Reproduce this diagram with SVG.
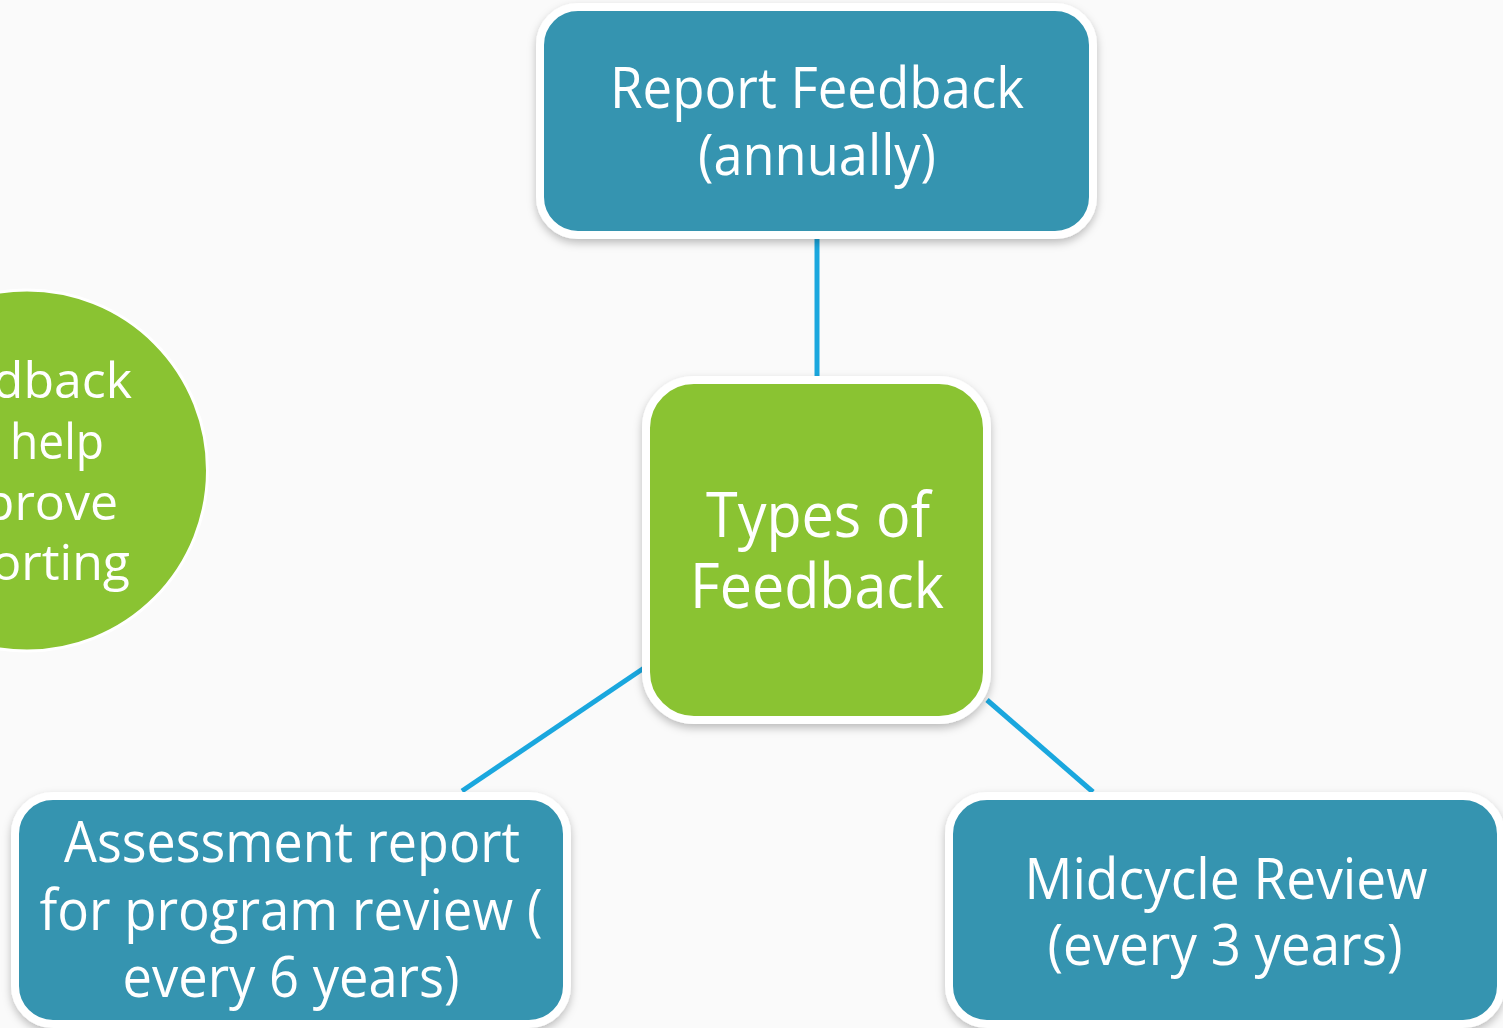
<svg xmlns="http://www.w3.org/2000/svg" width="1503" height="1028" viewBox="0 0 1503 1028">
<defs>
<filter id="sh" x="-10%" y="-10%" width="120%" height="130%">
<feDropShadow dx="0" dy="4" stdDeviation="4" flood-color="#000" flood-opacity="0.25"/>
</filter>
<style>
.teal{fill:#3494b0;stroke:#fff;stroke-width:8;}
.green{fill:#8ac332;stroke:#fff;stroke-width:8;}
.t{font-family:"Open Sans","Noto Sans","DejaVu Sans",sans-serif;fill:#fff;text-anchor:middle;font-size:56px;}
.tc{font-family:"Open Sans","Noto Sans","DejaVu Sans",sans-serif;fill:#fff;text-anchor:end;font-size:50px;}
.conn{stroke:#1aa7de;stroke-width:5;fill:none;}
</style>
</defs>
<rect width="1503" height="1028" fill="#fafafa"/>
<g id="connectors">
<line class="conn" x1="817" y1="239" x2="817" y2="380"/>
<line class="conn" x1="647" y1="666" x2="462" y2="791"/>
<line class="conn" x1="987" y1="700" x2="1093" y2="792"/>
</g>
<g id="circle-node">
<circle cx="27" cy="470.5" r="180.5" fill="#8ac332" stroke="#fff" stroke-width="3"/>
<text class="tc" x="132" y="398">dback</text>
<text class="tc" x="104" y="459" textLength="94" lengthAdjust="spacingAndGlyphs">help</text>
<text class="tc" x="118" y="520">prove</text>
<text class="tc" x="130" y="580">orting</text>
</g>
<g id="report-feedback">
<rect class="teal" x="540" y="7" width="553" height="228" rx="38" filter="url(#sh)"/>
<text class="t" x="817" y="108" textLength="414" lengthAdjust="spacingAndGlyphs">Report Feedback</text>
<text class="t" x="817" y="175" textLength="238" lengthAdjust="spacingAndGlyphs">(annually)</text>
</g>
<g id="types-of-feedback">
<rect class="green" x="646" y="380" width="341" height="340" rx="48" filter="url(#sh)"/>
<text class="t" x="818" y="537" style="font-size:62px" textLength="224" lengthAdjust="spacingAndGlyphs">Types of</text>
<text class="t" x="817" y="608" style="font-size:62px" textLength="254" lengthAdjust="spacingAndGlyphs">Feedback</text>
</g>
<g id="assessment-report">
<rect class="teal" x="15" y="796" width="552" height="228" rx="38" filter="url(#sh)"/>
<text class="t" x="292" y="862" textLength="456" lengthAdjust="spacingAndGlyphs">Assessment report</text>
<text class="t" x="291" y="930" textLength="503" lengthAdjust="spacingAndGlyphs">for program review (</text>
<text class="t" x="291" y="997" textLength="337" lengthAdjust="spacingAndGlyphs">every 6 years)</text>
</g>
<g id="midcycle-review">
<rect class="teal" x="949" y="796" width="552" height="228" rx="38" filter="url(#sh)"/>
<text class="t" x="1226" y="899" textLength="403" lengthAdjust="spacingAndGlyphs">Midcycle Review</text>
<text class="t" x="1225" y="965" textLength="355" lengthAdjust="spacingAndGlyphs">(every 3 years)</text>
</g>
</svg>
